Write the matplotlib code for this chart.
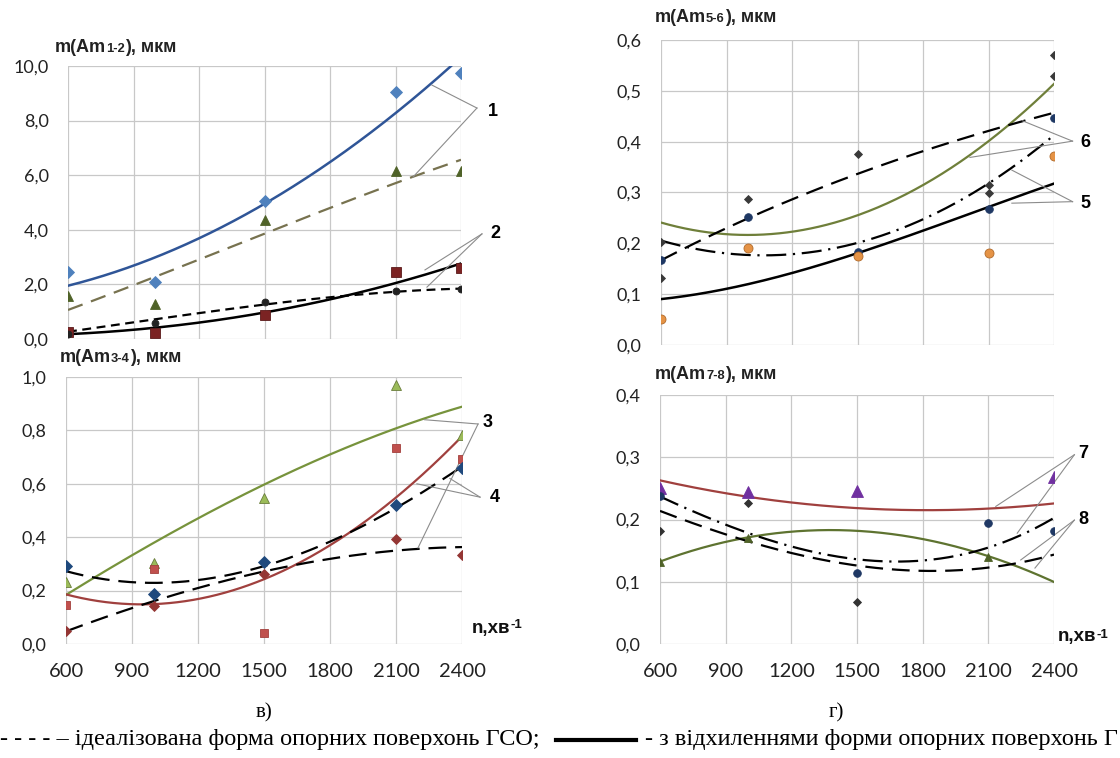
import numpy as np
import matplotlib
matplotlib.use("Agg")
import matplotlib.pyplot as plt
from matplotlib.ticker import FuncFormatter
from matplotlib.offsetbox import TextArea, HPacker, AnnotationBbox
from matplotlib.lines import Line2D

W, H = 1120, 758

# rotation speed, grid positions (for trend lines) and measured points
n_grid = [600, 900, 1200, 1500, 1800, 2100, 2400]
n_pts = [600, 1000, 1500, 2100, 2400]

# --- в) top: m(Am1-2)
a12_blue = [2.44, 2.08, 5.05, 9.05, 9.74]
a12_green = [1.59, 1.28, 4.37, 6.14, 6.14]
a12_red = [0.27, 0.21, 0.88, 2.45, 2.61]
a12_black = [0.20, 0.60, 1.37, 1.76, 1.84]
a12_blue_tr = [1.95, 2.69, 3.69, 4.95, 6.48, 8.27, 10.33]
a12_green_tr = [1.06, 1.98, 2.91, 3.85, 4.80, 5.72, 6.56]
a12_black_tr = [0.18, 0.33, 0.60, 0.98, 1.45, 2.04, 2.77]
a12_dash_tr = [0.27, 0.60, 0.95, 1.27, 1.53, 1.72, 1.85]

# --- в) bottom: m(Am3-4)
a34_green = [0.232, 0.303, 0.547, 0.971, 0.781]
a34_red = [0.145, 0.281, 0.041, 0.734, 0.694]
a34_navy = [0.293, 0.189, 0.306, 0.522, 0.659]
a34_maroon = [0.047, 0.141, 0.263, 0.393, 0.332]
a34_green_tr = [0.185, 0.33, 0.47, 0.60, 0.71, 0.805, 0.89]
a34_red_tr = [0.185, 0.152, 0.165, 0.243, 0.372, 0.547, 0.778]
a34_dash4_tr = [0.27, 0.238, 0.24, 0.283, 0.385, 0.515, 0.662]
a34_dash3_tr = [0.047, 0.135, 0.21, 0.272, 0.316, 0.353, 0.362]

# --- г) top: m(Am5-6)
a56_gray_n = [600, 600, 1000, 1500, 2100, 2100, 2400, 2400]
a56_gray = [0.202, 0.131, 0.287, 0.376, 0.315, 0.299, 0.571, 0.530]
a56_navy = [0.167, 0.251, 0.183, 0.268, 0.447]
a56_orange = [0.051, 0.191, 0.176, 0.180, 0.372]
a56_green_tr = [0.241, 0.218, 0.222, 0.256, 0.315, 0.400, 0.514]
a56_dash_tr = [0.167, 0.229, 0.287, 0.337, 0.381, 0.421, 0.457]
a56_dashdot_tr = [0.204, 0.183, 0.180, 0.196, 0.247, 0.322, 0.411]
a56_solid_tr = [0.090, 0.111, 0.142, 0.180, 0.224, 0.273, 0.317]

# --- г) bottom: m(Am7-8)
a78_purple_n = [600, 1000, 1500, 2400]
a78_purple = [0.250, 0.244, 0.246, 0.269]
a78_navy_n = [600, 1500, 2100, 2400]
a78_navy = [0.237, 0.114, 0.194, 0.182]
a78_gray_n = [600, 1000, 1500]
a78_gray = [0.182, 0.226, 0.067]
a78_olive_n = [600, 1000, 2100]
a78_olive = [0.132, 0.170, 0.140]
a78_red_tr = [0.262, 0.243, 0.228, 0.219, 0.214, 0.216, 0.227]
a78_green_tr = [0.132, 0.165, 0.180, 0.182, 0.167, 0.143, 0.099]
a78_dashdot_tr = [0.236, 0.194, 0.156, 0.134, 0.135, 0.156, 0.202]
a78_dash_tr = [0.213, 0.178, 0.146, 0.124, 0.118, 0.124, 0.143]

SANS = "Lato"
BOLD = "Liberation Sans"
SERIF = "Liberation Serif"

fig = plt.figure(figsize=(W / 100, H / 100), dpi=100)


def fpos(x, y):
    return x / W, 1 - y / H


def make_ax(l, t, r, b, ymax, ystep, xlabels):
    ax = fig.add_axes([l / W, 1 - b / H, (r - l) / W, (b - t) / H])
    ax.set_xlim(600, 2400)
    ax.set_ylim(0, ymax)
    ax.set_xticks(n_grid)
    ax.set_yticks(np.arange(0, ymax + ystep / 2, ystep))
    ax.yaxis.set_major_formatter(FuncFormatter(lambda v, p: f"{v:.1f}".replace(".", ",")))
    ax.grid(True, color="#c8c8c8", lw=0.9)
    ax.set_axisbelow(True)
    for s in ax.spines.values():
        s.set_visible(False)
    ax.tick_params(length=0, pad=14)
    ax.tick_params(axis="y", labelsize=13, labelcolor="#222222")
    ax.tick_params(axis="x", labelsize=14.5, labelcolor="#222222")
    for lab in ax.get_xticklabels() + ax.get_yticklabels():
        lab.set_family(SANS)
    if not xlabels:
        ax.set_xticklabels([])
    return ax


def trend(ax, vals, color, lw=1.6, dashes=None, deg=3):
    c = np.polyfit(n_grid, vals, deg)
    xs = np.linspace(600, 2400, 300)
    line, = ax.plot(xs, np.polyval(c, xs), color=color, lw=lw)
    if dashes:
        line.set_dashes(dashes)


def pts(ax, n, vals, marker, ms, fc, ec=None, z=3):
    ax.plot(n, vals, ls="none", marker=marker, ms=ms, mfc=fc,
            mec=ec if ec else fc, mew=0.6, zorder=z)


def notes(ax, label, lx, ly, lines):
    ax.text(lx, ly, label, ha="center", va="center", fontsize=13,
            fontweight="bold", family=BOLD, clip_on=False)
    for x0, y0, x1, y1 in lines:
        ax.plot([x0, x1], [y0, y1], color="#8c8c8c", lw=0.8, clip_on=False)


def ylabel(x, y, main, sub, rest, size=13):
    tp = dict(fontsize=size, fontweight="bold", family=BOLD, color="#222222")
    sp = dict(fontsize=size * 0.72, fontweight="bold", family=BOLD, color="#222222")
    box = HPacker(children=[TextArea(main, textprops=tp), TextArea(sub, textprops=sp),
                            TextArea(rest, textprops=tp)], align="baseline", pad=0, sep=0)
    fig.add_artist(AnnotationBbox(box, fpos(x, y), xycoords="figure fraction",
                                  box_alignment=(0, 0.5), frameon=False, pad=0))


def nlabel(x, y):
    tp = dict(fontsize=13.5, fontweight="bold", family=BOLD, color="#111111")
    sp = dict(fontsize=9.5, fontweight="bold", family=BOLD, color="#111111")
    box = HPacker(children=[TextArea("n,хв", textprops=tp), TextArea("-1", textprops=sp)],
                  align="top", pad=0, sep=0)
    fig.add_artist(AnnotationBbox(box, fpos(x, y), xycoords="figure fraction",
                                  box_alignment=(0, 0.5), frameon=False, pad=0))


# ---------------- в) top
ax1 = make_ax(68, 66, 461, 339, 10, 2, False)
trend(ax1, a12_blue_tr, "#2f5597", lw=1.8, deg=2)
trend(ax1, a12_green_tr, "#77724f", lw=1.6, dashes=(7, 4))
trend(ax1, a12_black_tr, "black", lw=1.8)
trend(ax1, a12_dash_tr, "black", lw=1.6, dashes=(4, 2.5))
pts(ax1, n_pts, a12_blue, "D", 6, "#4f81bd")
pts(ax1, n_pts, a12_green, "^", 7.5, "#4f6228")
pts(ax1, n_pts, a12_red, "s", 7, "#7b2323", "#5a1a1a")
pts(ax1, n_pts, a12_black, "o", 5, "#222222")
notes(ax1, "1", 2545, 8.35, [(2473, 8.46, 2267, 9.30), (2473, 8.46, 2180, 5.93)])
notes(ax1, "2", 2556, 3.88, [(2496, 3.85, 2235, 2.53), (2496, 3.85, 2244, 1.90)])
ylabel(55, 48, "m(Am", "1-2", "), мкм")

# ---------------- в) bottom
ax2 = make_ax(66, 377, 462, 644, 1.0, 0.2, True)
trend(ax2, a34_green_tr, "#77933c")
trend(ax2, a34_red_tr, "#a0403e")
trend(ax2, a34_dash4_tr, "black", dashes=(8, 4))
trend(ax2, a34_dash3_tr, "black", dashes=(8, 4))
pts(ax2, n_pts, a34_green, "^", 7, "#9bbb59", "#6a7d3c")
pts(ax2, n_pts, a34_red, "s", 6, "#c0504d", "#a33f3c")
pts(ax2, n_pts, a34_navy, "D", 6.5, "#1f497d")
pts(ax2, n_pts, a34_maroon, "D", 5.5, "#943634")
notes(ax2, "3", 2518, 0.831, [(2473, 0.824, 2230, 0.84), (2473, 0.824, 2200, 0.36)])
notes(ax2, "4", 2550, 0.55, [(2482, 0.55, 2345, 0.62), (2482, 0.55, 2195, 0.60)])
ylabel(60, 358, "m(Am", "3-4", "), мкм")
nlabel(472, 628)

# ---------------- г) top
ax3 = make_ax(661, 40, 1054, 345, 0.6, 0.1, False)
trend(ax3, a56_green_tr, "#6f7f3a")
trend(ax3, a56_dash_tr, "black", dashes=(8, 4))
trend(ax3, a56_dashdot_tr, "black", dashes=(9, 3, 1, 3))
trend(ax3, a56_solid_tr, "black", lw=1.8)
pts(ax3, a56_gray_n, a56_gray, "D", 4.5, "#3a3a3a")
pts(ax3, n_pts, a56_navy, "o", 5.5, "#1f3864")
pts(ax3, n_pts, a56_orange, "o", 6.5, "#e59346", "#b06a2a")
notes(ax3, "6", 2542, 0.398, [(2485, 0.401, 2256, 0.441), (2485, 0.401, 2015, 0.369)])
notes(ax3, "5", 2542, 0.279, [(2485, 0.282, 2207, 0.344), (2485, 0.282, 2207, 0.279)])
ylabel(655, 18, "m(Am", "5-6", "), мкм")

# ---------------- г) bottom
ax4 = make_ax(660, 395, 1054, 644, 0.4, 0.1, True)
trend(ax4, a78_red_tr, "#a0403e", deg=2)
trend(ax4, a78_green_tr, "#5e7330")
trend(ax4, a78_dashdot_tr, "black", dashes=(9, 3, 1, 3))
trend(ax4, a78_dash_tr, "black", dashes=(8, 4))
pts(ax4, a78_purple_n, a78_purple, "^", 8, "#7030a0")
pts(ax4, a78_navy_n, a78_navy, "o", 5.5, "#1f3864")
pts(ax4, a78_gray_n, a78_gray, "D", 4, "#333333")
pts(ax4, a78_olive_n, a78_olive, "^", 5.5, "#4f6228")
notes(ax4, "7", 2534, 0.306, [(2493, 0.304, 2134, 0.221), (2493, 0.304, 2232, 0.178)])
notes(ax4, "8", 2534, 0.200, [(2493, 0.199, 2248, 0.135), (2493, 0.199, 2313, 0.122)])
ylabel(655, 375, "m(Am", "7-8", "), мкм")
nlabel(1058, 637)

# ---------------- captions and legend line (the source image is cut after "Г")
fig.text(*fpos(264, 713), "в)", ha="center", va="center", family=SERIF, fontsize=15)
fig.text(*fpos(836, 713), "г)", ha="center", va="center", family=SERIF, fontsize=15)
fig.text(*fpos(0, 740), "- - - - – ідеалізована форма опорних поверхонь ГСО;",
         ha="left", va="center", family=SERIF, fontsize=17.5)
fig.add_artist(Line2D([556 / W, 636 / W], [1 - 740 / H] * 2, color="black", lw=3,
                      transform=fig.transFigure))
fig.text(*fpos(1118, 740), "- з відхиленнями форми опорних поверхонь Г",
         ha="right", va="center", family=SERIF, fontsize=17.5)

fig.savefig("out.png", dpi=100)
